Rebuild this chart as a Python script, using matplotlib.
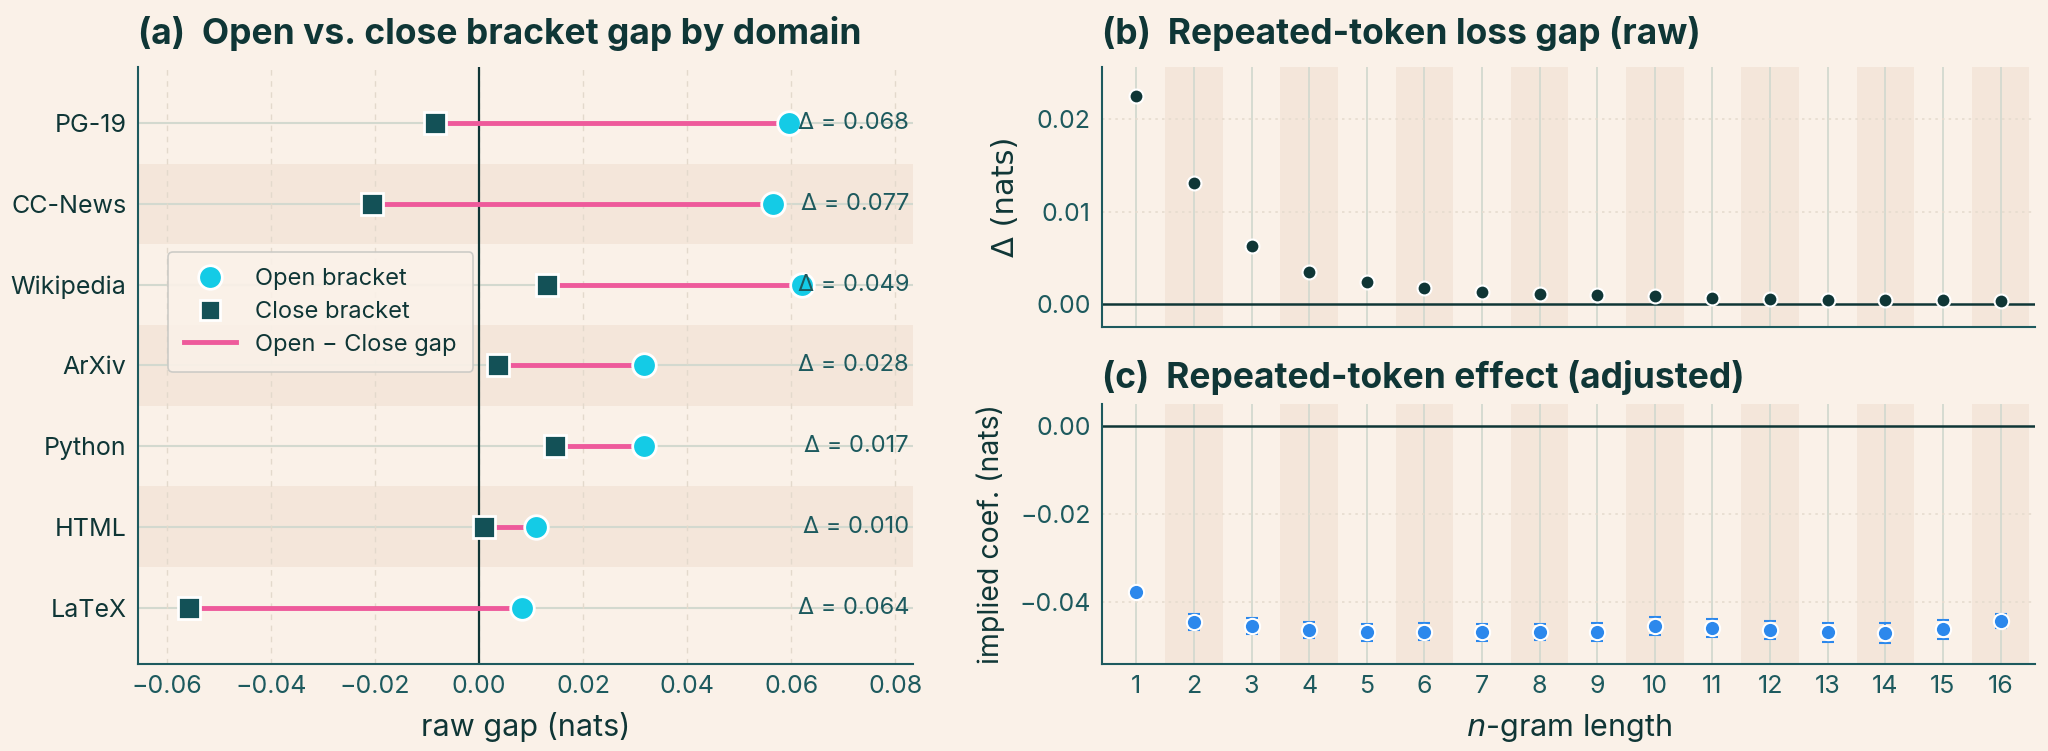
import matplotlib
matplotlib.use("Agg")
import matplotlib.pyplot as plt
import matplotlib.transforms as mtransforms
from matplotlib.lines import Line2D
import numpy as np

plt.rcParams['font.family'] = ['Inter', 'DejaVu Sans']

# ---------------- data ----------------
domains = ["PG-19", "CC-News", "Wikipedia", "ArXiv", "Python", "HTML", "LaTeX"]
open_gap = [0.0595, 0.0565, 0.0620, 0.0317, 0.0317, 0.0110, 0.0083]
close_gap = [-0.0085, -0.0205, 0.0130, 0.0037, 0.0147, 0.0010, -0.0557]
delta_labels = ["0.068", "0.077", "0.049", "0.028", "0.017", "0.010", "0.064"]
x_ticks_a = [-0.06, -0.04, -0.02, 0.00, 0.02, 0.04, 0.06, 0.08]

ngram = list(range(1, 17))
raw_delta = [0.02247, 0.01312, 0.00632, 0.00352, 0.00241, 0.00173, 0.00133, 0.00111,
             0.00097, 0.00086, 0.00068, 0.00057, 0.00050, 0.00046, 0.00046, 0.00039]
raw_err = [0.0003, 0.0002, 0.0001, 0.0001, 0.0001, 0.0001, 0.0001, 0.0001,
           0.0001, 0.0001, 0.0001, 0.0001, 0.0001, 0.0001, 0.0001, 0.0001]
adj_coef = [-0.0379, -0.0447, -0.0455, -0.0464, -0.0470, -0.0468, -0.0470, -0.0469,
            -0.0469, -0.0455, -0.0460, -0.0464, -0.0470, -0.0471, -0.0463, -0.0445]
adj_err = [0.0007, 0.0018, 0.0018, 0.0018, 0.0019, 0.0019, 0.0019, 0.0019,
           0.0020, 0.0021, 0.0021, 0.0021, 0.0021, 0.0023, 0.0022, 0.0016]

# ---------------- style ----------------
BG = '#FAF1E8'
BAND = '#F4E6DA'
DARK = '#0F3636'
TEAL = '#1D5A5E'
GRID = '#D3D9CF'
CYAN = '#14CBE6'
SQ = '#135157'
PINK = '#EE5A9B'
BLUE = '#2C88EC'

fig = plt.figure(figsize=(20.48, 7.51), dpi=100, facecolor=BG)

def style_axes(ax):
    ax.set_facecolor(BG)
    for s in ['top', 'right']:
        ax.spines[s].set_visible(False)
    for s in ['left', 'bottom']:
        ax.spines[s].set_color(TEAL)
        ax.spines[s].set_linewidth(1.5)
    ax.tick_params(colors=TEAL, labelsize=18, length=0, pad=8)

# ---------------- panel (a) ----------------
axa = fig.add_axes([0.0672, 0.1158, 0.3786, 0.7954])
style_axes(axa)
ypos = np.arange(len(domains))
for i in ypos:
    if i % 2 == 1:
        axa.axhspan(i - 0.5, i + 0.5, color=BAND, zorder=0, lw=0)
    axa.axhline(i, color=GRID, lw=1.5, zorder=1)
for xv in x_ticks_a:
    axa.axvline(xv, color='#E3D9CC', lw=1.0, ls=(0, (4, 4)), zorder=1)
axa.axvline(0, color=DARK, lw=1.6, zorder=2)

for i in ypos:
    axa.plot([close_gap[i], open_gap[i]], [i, i], color=PINK, lw=3.5, zorder=3,
             solid_capstyle='butt')
axa.plot(close_gap, ypos, 's', color=SQ, markersize=16, markeredgecolor='white',
         markeredgewidth=2, zorder=4, linestyle='none')
axa.plot(open_gap, ypos, 'o', color=CYAN, markersize=17, markeredgecolor='white',
         markeredgewidth=2, zorder=5, linestyle='none')

trans = mtransforms.blended_transform_factory(axa.transAxes, axa.transData)
for i, lab in enumerate(delta_labels):
    axa.text(0.995, i, "Δ = " + lab, transform=trans, ha='right', va='center',
             fontsize=17, color=TEAL, zorder=6)

axa.set_xlim(-0.0656, 0.0834)
axa.set_ylim(6.7, -0.7)
axa.set_yticks(ypos)
axa.set_yticklabels(domains)
axa.set_xticks(x_ticks_a)
axa.set_xticklabels([f"{v:.2f}".replace("-", "−") for v in x_ticks_a])
axa.tick_params(axis='y', colors=DARK, labelsize=18)
axa.set_xlabel("raw gap (nats)", fontsize=22, color=DARK, labelpad=10)
axa.set_title("(a)  Open vs. close bracket gap by domain", loc='left', fontsize=25.5,
              fontweight='bold', color=DARK, pad=16)

handles = [
    Line2D([], [], marker='o', color=CYAN, markersize=17, markeredgecolor='white',
           markeredgewidth=2, linestyle='none', label='Open bracket'),
    Line2D([], [], marker='s', color=SQ, markersize=15, markeredgecolor='white',
           markeredgewidth=2, linestyle='none', label='Close bracket'),
    Line2D([], [], color=PINK, lw=3.5, label='Open − Close gap'),
]
leg = axa.legend(handles=handles, loc='upper left', bbox_to_anchor=(0.039, 0.69),
                 borderaxespad=0, fontsize=17, frameon=True, facecolor=BG,
                 edgecolor='#C8C8C4', framealpha=0.9, labelspacing=0.45,
                 handlelength=2.2, borderpad=0.7)
for t in leg.get_texts():
    t.set_color(DARK)
leg.get_frame().set_linewidth(1.2)

# ---------------- panels (b), (c) ----------------
axb = fig.add_axes([0.538, 0.565, 0.4557, 0.3462])
style_axes(axb)
axc = fig.add_axes([0.538, 0.1158, 0.4557, 0.3459], sharex=axb)
style_axes(axc)

for ax in (axb, axc):
    for n in ngram:
        if n % 2 == 0:
            ax.axvspan(n - 0.5, n + 0.5, color=BAND, zorder=0, lw=0)
        ax.axvline(n, color=GRID, lw=1.3, zorder=1)

for yv in [0.01, 0.02]:
    axb.axhline(yv, color='#E6DCCF', lw=1.2, ls=(0, (1.5, 2.5)), zorder=1)
axb.axhline(0, color=DARK, lw=1.8, zorder=2)
axb.errorbar(ngram, raw_delta, yerr=raw_err, fmt='o', color=DARK, ecolor=DARK,
             elinewidth=1.2, capsize=3, markersize=10, markeredgecolor='white',
             markeredgewidth=1.5, zorder=4)
axb.set_ylim(-0.0024, 0.0256)
axb.set_yticks([0.0, 0.01, 0.02])
axb.set_yticklabels(["0.00", "0.01", "0.02"])
axb.tick_params(axis='x', labelbottom=False)
axb.set_ylabel("Δ (nats)", fontsize=22, color=DARK, fontfamily='DejaVu Sans',
               labelpad=12)
axb.set_title("(b)  Repeated-token loss gap (raw)", loc='left', fontsize=25.5,
              fontweight='bold', color=DARK, pad=16)

for yv in [-0.02, -0.04]:
    axc.axhline(yv, color='#E6DCCF', lw=1.2, ls=(0, (1.5, 2.5)), zorder=1)
axc.axhline(0, color=DARK, lw=1.8, zorder=2)
axc.errorbar(ngram, adj_coef, yerr=adj_err, fmt='o', color=BLUE, ecolor=BLUE,
             elinewidth=1.5, capsize=4, capthick=1.5, markersize=11,
             markeredgecolor='white', markeredgewidth=1.5, zorder=4)
axc.set_ylim(-0.0542, 0.0049)
axc.set_yticks([0.0, -0.02, -0.04])
axc.set_yticklabels(["0.00", "−0.02", "−0.04"])
axc.set_xlim(0.4, 16.6)
axc.set_xticks(ngram)
axc.set_xticklabels([str(n) for n in ngram])
axc.set_ylabel("implied coef. (nats)", fontsize=20.5, color=DARK, labelpad=10)
axc.set_xlabel(r"$n$-gram length", fontsize=22, color=DARK, labelpad=10)
axc.set_title("(c)  Repeated-token effect (adjusted)", loc='left', fontsize=25.5,
              fontweight='bold', color=DARK, pad=12)

fig.savefig("out.png", dpi=100, facecolor=BG)
